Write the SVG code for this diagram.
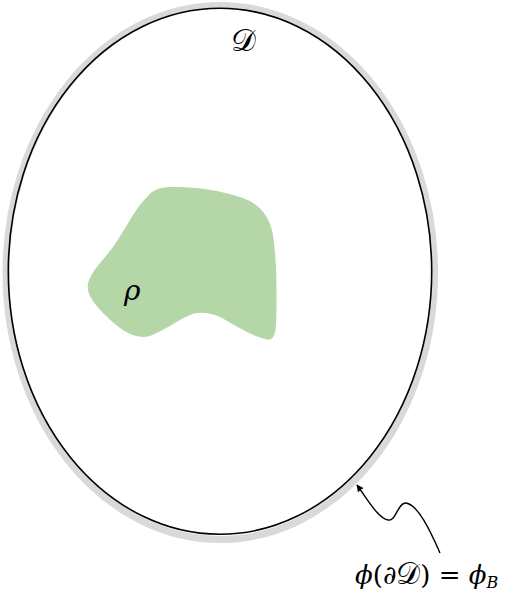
<svg xmlns="http://www.w3.org/2000/svg" width="524" height="600" viewBox="0 0 524 600">
<style>
.math{font-family:"DejaVu Serif","Noto Sans",serif;fill:#000;}
.it{font-style:italic;}
</style>
<defs>
<marker id="ah" viewBox="0 0 10 10" refX="9" refY="5" markerWidth="7" markerHeight="7" orient="auto-start-reverse" markerUnits="userSpaceOnUse">
<path d="M0,0 L10,5 L0,10 z" fill="#000"/>
</marker>
</defs>
<rect width="524" height="600" fill="#fff"/>
<g id="domain">
<ellipse cx="220.3" cy="272.5" rx="214.3" ry="267" fill="none" stroke="#d9d9d9" stroke-width="7"/>
<ellipse cx="220" cy="271.3" rx="211.7" ry="263" fill="none" stroke="#000" stroke-width="1.6"/>
<text class="math" x="231" y="51" font-size="31">𝒟</text>
</g>
<g id="rho">
<path d="M147,197 C155,186 168,187 180,187 C205,188 230,192 250,201 C262,208 270,218 273,235 C277,260 277,300 276,325 C275,338 272,341 265,339 C250,335 238,327 222,318 C212,313 200,311 190,315 C178,320 165,330 150,336 C135,340 120,330 105,315 C95,305 86,295 88,283 C92,270 105,258 113,247 C120,237 125,228 130,220 C136,210 140,204 147,197 Z" fill="#b5d6a7"/>
<text class="math it" x="124" y="300" font-size="28">ρ</text>
</g>
<g id="connectors">
<path d="M440,553 C430,530 418,505 406,503 C398,502 396,522 388,520 C378,518 368,500 357,485" fill="none" stroke="#000" stroke-width="1.4" marker-end="url(#ah)"/>
</g>
<g id="label">
<text class="math" x="355" y="584" font-size="26"><tspan class="it">ϕ</tspan>(∂<tspan font-size="30">𝒟</tspan>) = <tspan class="it">ϕ</tspan><tspan class="it" font-size="16" dy="4">B</tspan></text>
</g>
</svg>
